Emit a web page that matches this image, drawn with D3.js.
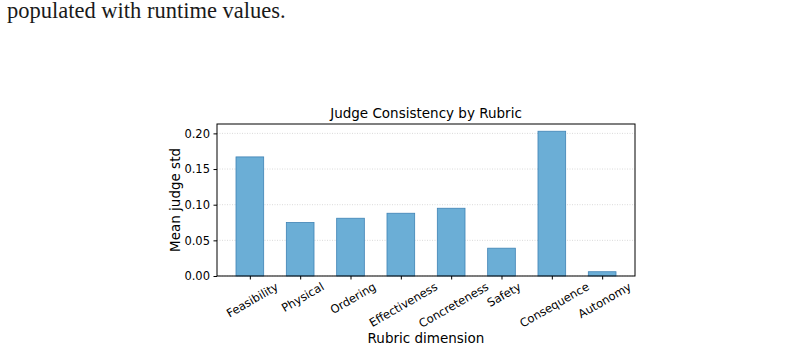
<!DOCTYPE html>
<html lang="en">
<head>
    <meta charset="UTF-8">
    <title>Judge Consistency by Rubric</title>
    <script src="https://d3js.org/d3.v7.min.js"></script>
    <style>
        body { margin: 0; background: #fff; }
        svg { display: block; }
    </style>
</head>
<body>
    <div id="chart"></div>
    <script>
        // Data
        const rubrics = ["Feasibility", "Physical", "Ordering", "Effectiveness",
                         "Concreteness", "Safety", "Consequence", "Autonomy"];
        const meanStd = [0.167, 0.075, 0.081, 0.088, 0.095, 0.039, 0.203, 0.006];
        const yTicks = [0.00, 0.05, 0.10, 0.15, 0.20];

        const W = 798, H = 350;
        const plot = {left: 217, right: 635, top: 124, bottom: 276};

        const svg = d3.select("#chart").append("svg")
            .attr("width", W).attr("height", H);

        // Leftover paragraph line from the page
        svg.append("text")
            .attr("x", 7).attr("y", 18)
            .attr("font-family", "'Liberation Serif', serif")
            .attr("font-size", 22.5)
            .attr("fill", "#1a1a1a")
            .text("populated with runtime values.");

        const barW = 0.55;
        const n = rubrics.length;
        const pad = (n - 1 + barW) * 0.05;
        const x = d3.scaleLinear()
            .domain([-barW / 2 - pad, n - 1 + barW / 2 + pad])
            .range([plot.left, plot.right]);

        const yMax = d3.max(meanStd) * 1.05;
        const y = d3.scaleLinear().domain([0, yMax]).range([plot.bottom, plot.top]);

        // Grid
        svg.append("g").selectAll("line")
            .data(yTicks).enter().append("line")
            .attr("x1", plot.left).attr("x2", plot.right)
            .attr("y1", d => y(d)).attr("y2", d => y(d))
            .attr("stroke", "#d0d0d0").attr("stroke-width", 0.8)
            .attr("stroke-dasharray", "1,1.5");

        // Bars
        svg.append("g").selectAll("rect")
            .data(meanStd).enter().append("rect")
            .attr("x", (d, i) => x(i - barW / 2))
            .attr("width", (d, i) => x(i + barW / 2) - x(i - barW / 2))
            .attr("y", d => y(d))
            .attr("height", d => y(0) - y(d))
            .attr("fill", "#6baed6")
            .attr("stroke", "#3f83b5")
            .attr("stroke-width", 0.8);

        // Axes
        const fontAxis = "'DejaVu Sans', sans-serif";
        const tickFont = 11.5;
        const yAxis = svg.append("g")
            .attr("transform", `translate(${plot.left},0)`)
            .call(d3.axisLeft(y).tickValues(yTicks).tickFormat(d3.format(".2f")).tickSize(3.5).tickPadding(3.5));
        yAxis.select(".domain").remove();
        yAxis.selectAll("text").attr("font-family", fontAxis).attr("font-size", tickFont).attr("fill", "#000");

        const xAxis = svg.append("g")
            .attr("transform", `translate(0,${plot.bottom})`)
            .call(d3.axisBottom(x).tickValues(d3.range(n)).tickFormat(i => rubrics[i]).tickSize(3.5).tickPadding(3.5));
        xAxis.select(".domain").remove();
        // rotated 30 degrees, bounding box centred on the tick
        const sin = Math.sin(Math.PI / 6), cos = Math.cos(Math.PI / 6);
        xAxis.selectAll("text")
            .attr("font-family", fontAxis).attr("font-size", tickFont).attr("fill", "#000")
            .attr("text-anchor", "middle")
            .attr("y", 0).attr("dy", "0.35em")
            .attr("transform", function () {
                const w = this.getComputedTextLength();
                const h = tickFont * 0.9;
                const boxH = w * sin + h * cos;
                return `translate(2,${5 + boxH / 2}) rotate(-30)`;
            });

        // Frame
        svg.append("rect")
            .attr("x", plot.left).attr("y", plot.top)
            .attr("width", plot.right - plot.left).attr("height", plot.bottom - plot.top)
            .attr("fill", "none").attr("stroke", "#000").attr("stroke-width", 1);

        // Labels
        const labelFont = 13.5;
        svg.append("text")
            .attr("x", (plot.left + plot.right) / 2).attr("y", plot.top - 6)
            .attr("text-anchor", "middle")
            .attr("font-family", fontAxis).attr("font-size", labelFont)
            .text("Judge Consistency by Rubric");

        svg.append("text")
            .attr("x", (plot.left + plot.right) / 2).attr("y", 343)
            .attr("text-anchor", "middle")
            .attr("font-family", fontAxis).attr("font-size", labelFont)
            .text("Rubric dimension");

        svg.append("text")
            .attr("transform", `translate(180,${(plot.top + plot.bottom) / 2}) rotate(-90)`)
            .attr("text-anchor", "middle")
            .attr("font-family", fontAxis).attr("font-size", labelFont)
            .text("Mean judge std");
    </script>
</body>
</html>
